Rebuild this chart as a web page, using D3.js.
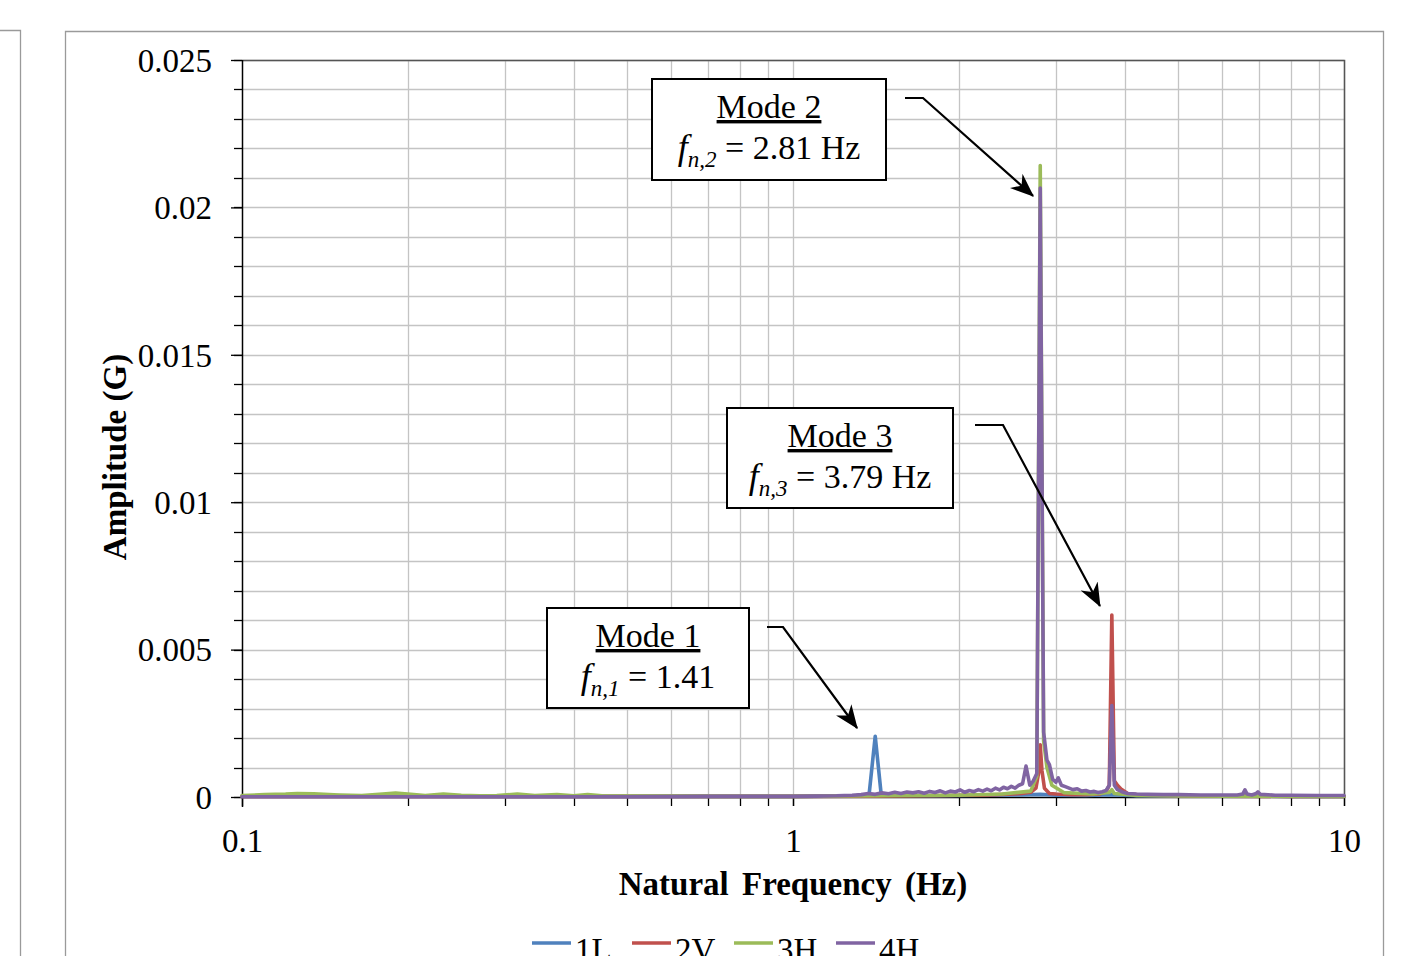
<!DOCTYPE html>
<html>
<head>
<meta charset="utf-8">
<script src="https://cdn.jsdelivr.net/npm/d3@7"></script>
<style>
  html, body { margin: 0; padding: 0; background: #ffffff; }
  svg { display: block; }
  text { font-family: "Liberation Serif", "Times New Roman", serif; fill: #000; }
</style>
</head>
<body>
<svg id="chart" width="1423" height="956"></svg>
<script>
// ---- Spectra: [frequency (Hz), amplitude (G)] ----
const series1L = [
  [0.100,0.00003],[0.115,0.00004],[0.135,0.00005],[0.160,0.00004],[0.190,0.00003],
  [0.230,0.00003],[0.280,0.00002],[0.350,0.00002],[0.450,0.00002],[0.600,0.00002],
  [0.800,0.00002],[1.000,0.00002],[1.150,0.00003],[1.250,0.00003],[1.340,0.00005],
  [1.375,0.00012],[1.410,0.00206],[1.445,0.00012],[1.480,0.00006],[1.600,0.00005],
  [1.800,0.00004],[2.000,0.00005],[2.300,0.00006],[2.600,0.00007],[2.810,0.00009],
  [3.000,0.00006],[3.400,0.00005],[3.790,0.00008],[4.200,0.00004],[5.000,0.00003],
  [6.500,0.00003],[8.000,0.00002],[10.00,0.00002]
];
const series2V = [
  [0.100,0.00002],[0.200,0.00002],[0.400,0.00002],[0.700,0.00002],[1.000,0.00002],
  [1.400,0.00003],[1.700,0.00004],[1.900,0.00005],[2.050,0.00006],[2.200,0.00006],
  [2.350,0.00008],[2.500,0.00010],[2.600,0.00012],[2.700,0.00016],[2.760,0.00030],
  [2.790,0.00080],[2.810,0.00177],[2.830,0.00090],[2.860,0.00030],[2.920,0.00012],
  [3.000,0.00010],[3.200,0.00008],[3.400,0.00008],[3.600,0.00010],[3.700,0.00018],
  [3.750,0.00040],[3.790,0.00617],[3.830,0.00055],[3.880,0.00040],[3.950,0.00025],
  [4.050,0.00012],[4.300,0.00006],[5.000,0.00004],[6.000,0.00003],[8.000,0.00002],
  [10.00,0.00002]
];
const series3H = [
  [0.100,0.00005],[0.110,0.00008],[0.120,0.00010],[0.126,0.00012],[0.135,0.00011],
  [0.150,0.00007],[0.165,0.00005],[0.180,0.00010],[0.190,0.00013],[0.200,0.00010],
  [0.215,0.00005],[0.232,0.00010],[0.250,0.00006],[0.270,0.00004],[0.290,0.00005],
  [0.316,0.00010],[0.340,0.00005],[0.373,0.00008],[0.400,0.00004],[0.424,0.00008],
  [0.450,0.00004],[0.500,0.00003],[0.600,0.00003],[0.800,0.00002],[1.000,0.00002],
  [1.400,0.00004],[2.000,0.00006],[2.400,0.00010],[2.700,0.00020],[2.770,0.00070],
  [2.810,0.02142],[2.850,0.00190],[2.890,0.00100],[2.950,0.00040],[3.100,0.00015],
  [3.500,0.00010],[3.750,0.00015],[3.790,0.00025],[3.830,0.00012],[4.200,0.00005],
  [6.000,0.00003],[10.00,0.00002]
];
const series4H = [
  [0.100,0.00001],[0.150,0.00001],[0.200,0.00001],[0.300,0.00001],[0.500,0.00001],
  [0.700,0.00002],[0.900,0.00002],[1.000,0.00002],[1.100,0.00003],[1.200,0.00004],
  [1.280,0.00006],[1.330,0.00008],[1.370,0.00012],[1.410,0.00009],[1.450,0.00014],
  [1.490,0.00011],[1.530,0.00016],[1.570,0.00012],[1.610,0.00017],[1.650,0.00014],
  [1.690,0.00018],[1.730,0.00013],[1.770,0.00019],[1.810,0.00015],[1.850,0.00021],
  [1.890,0.00014],[1.930,0.00020],[1.970,0.00017],[2.010,0.00024],[2.050,0.00016],
  [2.090,0.00022],[2.130,0.00018],[2.170,0.00025],[2.210,0.00020],[2.250,0.00027],
  [2.290,0.00021],[2.330,0.00030],[2.370,0.00024],[2.410,0.00033],[2.450,0.00028],
  [2.490,0.00036],[2.530,0.00030],[2.570,0.00040],[2.610,0.00045],[2.648,0.00105],
  [2.690,0.00040],[2.730,0.00055],[2.770,0.00080],[2.810,0.02066],[2.850,0.00220],
  [2.890,0.00125],[2.920,0.00110],[2.960,0.00060],[3.000,0.00050],[3.030,0.00065],
  [3.070,0.00040],[3.120,0.00035],[3.170,0.00030],[3.220,0.00025],[3.280,0.00028],
  [3.340,0.00020],[3.400,0.00022],[3.460,0.00017],[3.520,0.00019],[3.580,0.00015],
  [3.640,0.00018],[3.700,0.00022],[3.750,0.00040],[3.790,0.00310],[3.830,0.00040],
  [3.880,0.00025],[3.950,0.00018],[4.050,0.00012],[4.200,0.00010],[4.400,0.00009],
  [4.700,0.00008],[5.000,0.00008],[5.500,0.00007],[6.000,0.00007],[6.400,0.00007],
  [6.550,0.00010],[6.610,0.00024],[6.670,0.00010],[6.800,0.00007],[6.930,0.00012],
  [6.980,0.00017],[7.050,0.00009],[7.500,0.00006],[8.000,0.00006],[9.000,0.00005],
  [10.00,0.00005]
];

const seriesNames  = ["1L", "2V", "3H", "4H"];
const seriesColors = ["#4F81BD", "#C0504D", "#9BBB59", "#8064A2"];
const seriesData   = [series1L, series2V, series3H, series4H];

const xTickLabels = [0.1, 1, 10];
const yTickLabels = [0, 0.005, 0.01, 0.015, 0.02, 0.025];

// Callouts: tip of the arrow in data units
const callouts = [
  { title: "Mode 1", sub: "n,1", value: " = 1.41",    tipF: 1.307, tipA: 0.00234,
    box: [547, 608, 202, 100], elbow: [[767, 627], [783, 627]] },
  { title: "Mode 2", sub: "n,2", value: " = 2.81 Hz", tipF: 2.727, tipA: 0.02039,
    box: [652, 79, 234, 101],  elbow: [[905, 98], [923, 98]] },
  { title: "Mode 3", sub: "n,3", value: " = 3.79 Hz", tipF: 3.606, tipA: 0.00648,
    box: [727, 408, 226, 100], elbow: [[975, 425], [1003, 425]] }
];

// ---- Layout ----
const plot = { left: 242, right: 1344, top: 60, bottom: 797 };
const svg = d3.select("#chart");

// neighbouring panel edge and chart frame
svg.append("path").attr("d", "M0,30.5H20.5V956")
  .attr("fill", "none").attr("stroke", "#9a9a9a").attr("stroke-width", 1.3);
svg.append("path").attr("d", "M65.5,960V31.5H1383.5V960")
  .attr("fill", "none").attr("stroke", "#9a9a9a").attr("stroke-width", 1.3);

const x = d3.scaleLog().domain([0.1, 10]).range([plot.left, plot.right]);
const y = d3.scaleLinear().domain([0, 0.025]).range([plot.bottom, plot.top]);

// ---- Grid ----
const xGrid = [];
for (let dec = 0.1; dec < 10; dec *= 10) {
  for (let k = 2; k <= 10; k++) xGrid.push(+(dec * k).toFixed(4));
}
const yGrid = d3.range(1, 26).map(i => i * 0.001);

const grid = svg.append("g");
grid.selectAll("line.h").data(yGrid).join("line")
  .attr("x1", plot.left).attr("x2", plot.right)
  .attr("y1", d => Math.round(y(d)) + 0.5).attr("y2", d => Math.round(y(d)) + 0.5)
  .attr("stroke", "#c4c4c4").attr("stroke-width", 1.3);
grid.selectAll("line.v").data(xGrid).join("line")
  .attr("y1", plot.top).attr("y2", plot.bottom)
  .attr("x1", d => Math.round(x(d)) + 0.5).attr("x2", d => Math.round(x(d)) + 0.5)
  .attr("stroke", "#c4c4c4").attr("stroke-width", 1.3);

// plot frame (top and right)
svg.append("path")
  .attr("d", `M${plot.left},${plot.top + 0.5}H${plot.right + 0.5}V${plot.bottom}`)
  .attr("fill", "none").attr("stroke", "#555").attr("stroke-width", 1.5);

// ---- Axes ----
const yAxisG = svg.append("g").attr("transform", `translate(${plot.left},0)`);
// minor ticks
yAxisG.selectAll("line.minor").data(yGrid.concat([0])).join("line")
  .attr("x1", -8).attr("x2", 0)
  .attr("y1", d => Math.round(y(d)) + 0.5).attr("y2", d => Math.round(y(d)) + 0.5)
  .attr("stroke", "#000").attr("stroke-width", 1.3);
const yAxis = d3.axisLeft(y).tickValues(yTickLabels).tickSize(11).tickPadding(19)
  .tickFormat(d => d === 0 ? "0" : String(+d.toFixed(3)));
yAxisG.call(yAxis);
yAxisG.select(".domain").attr("d", `M0.5,${plot.top}V${plot.bottom + 10}`)
  .attr("stroke", "#000").attr("stroke-width", 1.5);

const xAxisG = svg.append("g").attr("transform", `translate(0,${plot.bottom})`);
xAxisG.selectAll("line.minor").data(xGrid).join("line")
  .attr("y1", 0).attr("y2", 9)
  .attr("x1", d => Math.round(x(d)) + 0.5).attr("x2", d => Math.round(x(d)) + 0.5)
  .attr("stroke", "#000").attr("stroke-width", 1.3);
const xAxis = d3.axisBottom(x).tickValues(xTickLabels).tickSize(9).tickPadding(22)
  .tickFormat(d => String(d));
xAxisG.call(xAxis);
xAxisG.select(".domain").attr("d", `M${plot.left},0.5H${plot.right}`)
  .attr("stroke", "#000").attr("stroke-width", 1.5);

svg.selectAll(".tick line").attr("stroke", "#000").attr("stroke-width", 1.3);
svg.selectAll(".tick text")
  .attr("font-family", "Liberation Serif, Times New Roman, serif")
  .attr("font-size", 33).attr("fill", "#000");
yAxisG.selectAll(".tick text").attr("dy", "0.34em");
xAxisG.selectAll(".tick text").attr("dy", "0.72em");

// axis titles
svg.append("text")
  .attr("x", (plot.left + plot.right) / 2).attr("y", 895)
  .attr("text-anchor", "middle").attr("font-size", 33).attr("font-weight", "bold")
  .attr("word-spacing", 5)
  .text("Natural Frequency (Hz)");
svg.append("text")
  .attr("transform", "translate(126,457) rotate(-90)")
  .attr("text-anchor", "middle").attr("font-size", 33).attr("font-weight", "bold")
  .text("Amplitude (G)");

// ---- Series ----
const line = d3.line().x(d => x(d[0])).y(d => y(d[1]));
const linesG = svg.append("g");
seriesData.forEach((data, i) => {
  linesG.append("path").datum(data)
    .attr("d", line)
    .attr("fill", "none")
    .attr("stroke", seriesColors[i])
    .attr("stroke-width", 3.6)
    .attr("stroke-linejoin", "round")
    .attr("stroke-linecap", "round");
});

// ---- Callouts ----
const defs = svg.append("defs");
defs.append("marker").attr("id", "arrowHead")
  .attr("viewBox", "0 0 20 16").attr("refX", 19).attr("refY", 8)
  .attr("markerWidth", 24).attr("markerHeight", 19).attr("markerUnits", "userSpaceOnUse")
  .attr("orient", "auto")
  .append("path").attr("d", "M0,0L20,8L0,16L6,8Z").attr("fill", "#000");

const cg = svg.append("g");
callouts.forEach(c => {
  const [bx, by, bw, bh] = c.box;
  cg.append("rect").attr("x", bx).attr("y", by).attr("width", bw).attr("height", bh)
    .attr("fill", "#fff").attr("stroke", "#000").attr("stroke-width", 2);
  const cx = bx + bw / 2;
  cg.append("text").attr("x", cx).attr("y", by + 39)
    .attr("text-anchor", "middle").attr("font-size", 34)
    .attr("text-decoration", "underline")
    .text(c.title);
  const t2 = cg.append("text").attr("x", cx).attr("y", by + 80)
    .attr("text-anchor", "middle").attr("font-size", 34);
  t2.append("tspan").attr("font-style", "italic").attr("font-size", 36).text("f");
  t2.append("tspan").attr("font-style", "italic").attr("font-size", 23)
    .attr("dy", 8).text(c.sub);
  t2.append("tspan").attr("dy", -8).text(c.value);

  const pts = c.elbow.concat([[x(c.tipF), y(c.tipA)]]);
  cg.append("path").attr("d", d3.line()(pts))
    .attr("fill", "none").attr("stroke", "#000").attr("stroke-width", 2.2)
    .attr("marker-end", "url(#arrowHead)");
});

// ---- Legend ----
const legendX = [532, 632, 734, 836];
const lg = svg.append("g");
seriesNames.forEach((name, i) => {
  lg.append("line").attr("x1", legendX[i]).attr("x2", legendX[i] + 39)
    .attr("y1", 943).attr("y2", 943)
    .attr("stroke", seriesColors[i]).attr("stroke-width", 3.6);
  lg.append("text").attr("x", legendX[i] + 43).attr("y", 961)
    .attr("font-size", 33).text(name);
});
</script>
</body>
</html>
